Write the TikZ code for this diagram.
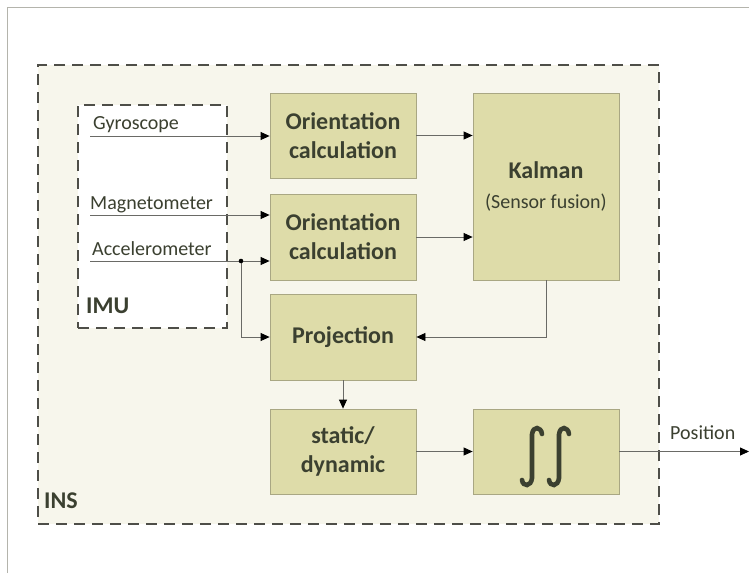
\documentclass[tikz,border=0pt]{standalone}
\usepackage{fontspec}
\setmainfont{Carlito}
\usetikzlibrary{arrows.meta,calc}
\definecolor{boxfill}{HTML}{DEDCA9}
\definecolor{boxline}{HTML}{A9A783}
\definecolor{insfill}{HTML}{F7F6EC}
\definecolor{ink}{HTML}{3B4030}
\definecolor{frameline}{HTML}{B4B4AC}
\definecolor{dashline}{HTML}{4E4E48}
\definecolor{wire}{HTML}{6A6A66}
\begin{document}
\begin{tikzpicture}[x=1pt,y=-1pt,
  block/.style={draw=boxline,fill=boxfill,line width=0.8pt,minimum width=146pt,
    text=ink,font=\fontsize{24}{29}\selectfont\bfseries,align=center,inner sep=0pt},
  groupbox/.style={draw=dashline,line width=2.2pt,dash pattern=on 11pt off 7pt,inner sep=0pt},
  wirestyle/.style={draw=wire,line width=0.8pt},
  flow/.style={wirestyle,-{Triangle[length=9pt,width=8pt,color=black]}},
  sig/.style={font=\fontsize{20}{22}\selectfont,text=ink,inner sep=0pt,anchor=base west},
  grouplabel/.style={font=\fontsize{24}{26}\selectfont\bfseries,text=ink,inner sep=0pt,anchor=base west},
  integralstroke/.style={draw=ink,line width=4.6pt,line cap=round}
]
\useasboundingbox (0,0) rectangle (749,573);
% page frame
\draw[frameline,line width=1pt] (7,573) -- (7,7) -- (749,7);

% INS and IMU groups
\node[groupbox,fill=insfill,minimum width=621pt,minimum height=459pt] (ins) at (348.5,294.5) {};
\node[groupbox,fill=white,minimum width=149pt,minimum height=223pt] (imu) at (152.5,216.5) {};
\node[grouplabel] (inslabel) at (44,508) {INS};
\node[grouplabel] (imulabel) at (86,313) {IMU};

% processing blocks
\node[block,minimum height=85pt] (o1) at (343,135.5) {Orientation\\calculation};
\node[block,minimum height=86pt] (o2) at (343,237) {Orientation\\calculation};
\node[block,minimum height=86pt] (proj) at (343,337) {Projection};
\node[block,minimum height=85pt] (sd) at (343,451.5) {static/\\dynamic};
\node[block,minimum height=187pt] (kal) at (546,186.5)
  {Kalman\\[1pt]{\mdseries\fontsize{20}{22}\selectfont(Sensor fusion)}};
\node[block,minimum height=85pt] (integ) at (546,451.5) {};

% double integral symbol drawn inside the integrator block
\begin{scope}[shift={(integ.center)}]
  \foreach \a in {-14,13}{
    \draw[integralstroke] (\a+10,-17.5) .. controls (\a+9,-25) and (\a+1,-26) .. (\a,-17)
      -- (\a,26.5) .. controls (\a-1,35.5) and (\a-9,35.5) .. (\a-10,28.5);
  }
\end{scope}

% sensor signals
\coordinate (gyin) at (90,136);
\coordinate (magin) at (90,215);
\coordinate (accin) at (90,261);
\coordinate (split) at (241,261);
\node[sig] (gylabel) at (93,129) {Gyroscope};
\node[sig] (maglabel) at (90,209) {Magnetometer};
\node[sig] (acclabel) at (92,255) {Accelerometer};

\draw[flow] (gyin) -- (gyin -| o1.west);
\draw[flow] (magin) -- (magin -| o2.west);
\draw[flow] (accin) -- (accin -| o2.west);
\draw[flow] (split) |- (proj.west);
\fill (split) circle (2.3pt);

% fusion and integration chain
\draw[flow] (o1.east) -- (o1.east -| kal.west);
\draw[flow] (o2.east) -- (o2.east -| kal.west);
\draw[flow] (kal.south) |- (proj.east);
\draw[flow] (proj.south) -- (sd.north);
\draw[flow] (sd.east) -- (integ.west);
\coordinate (posout) at (749,451.5);
\draw[flow] (integ.east) -- (posout);
\node[sig] (poslabel) at (670,439) {Position};
\end{tikzpicture}
\end{document}
